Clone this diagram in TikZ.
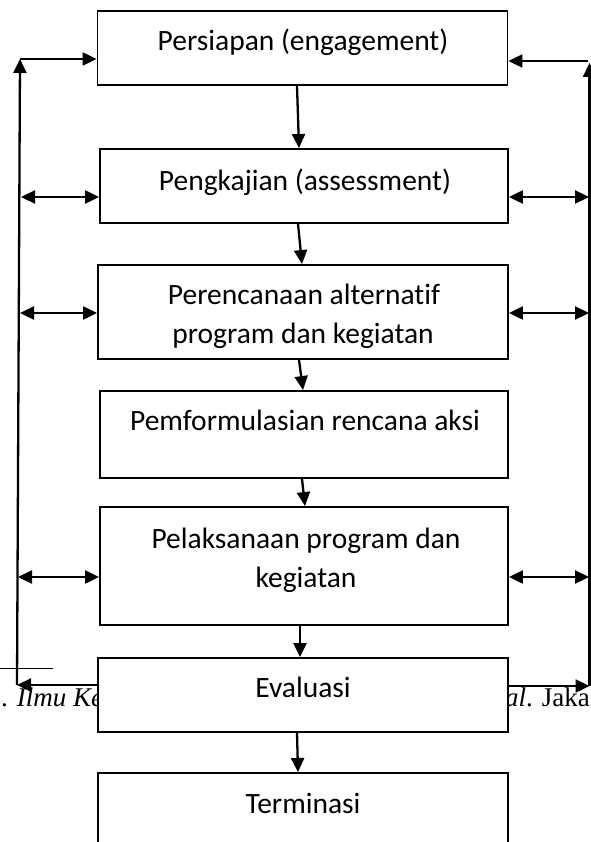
\documentclass[tikz,border=0pt]{standalone}
\usepackage{fontspec}
\setmainfont{Carlito}[Ligatures=NoCommon]
\newfontfamily\fnfont{Liberation Serif}
\usetikzlibrary{arrows.meta}
\tikzset{
  box/.style={draw=black, line width=1.9pt, fill=white, rectangle, inner sep=0pt, minimum width=410pt},
  lbl/.style={anchor=base, inner sep=0pt, font=\fontsize{29.5}{36}\selectfont},
  fn/.style={inner sep=0pt, font=\fnfont\fontsize{27}{32}\selectfont},
  tip/.tip={Triangle[length=14pt,width=13pt]},
  arr/.style={line width=2.3pt, -tip},
  darr/.style={line width=2.3pt, tip-tip},
}
\begin{document}
\begin{tikzpicture}[x=1pt,y=-1pt]
\useasboundingbox (0,0) rectangle (590,842);
% footnote remnants (behind the chart)
\draw[line width=1pt] (0,668) -- (53,668);
\node[fn, anchor=base west] (fnl) at (1,706) {. \textit{Ilmu Ke}};
\node[fn, anchor=base east] (fnr) at (590,706) {\textit{al}. Jaka};
% boxes
\node[box, minimum height=74pt]  (b1) at (302.5,48) {};
\node[box, minimum height=74pt, minimum width=408pt]  (b2) at (304,186) {};
\node[box, minimum height=94pt]  (b3) at (303,312) {};
\node[box, minimum height=87pt, minimum width=408pt]  (b4) at (304,434.5) {};
\node[box, minimum height=118pt, minimum width=408pt] (b5) at (304,566) {};
\node[box, minimum height=74pt]  (b6) at (303,695) {};
\node[box, minimum height=94pt]  (b7) at (303,820) {};
% labels
\node[lbl] (t1) at (303,51) {Persiapan (engagement)};
\node[lbl] (t2) at (305,191) {Pengkajian (assessment)};
\node[lbl] (t3a) at (304,304) {Perencanaan alternatif};
\begin{scope}
\clip (99,266) rectangle (507,349);
\node[lbl] (t3b) at (303,343) {program dan kegiatan};
\end{scope}
\node[lbl] (t4) at (305,430) {Pemformulasian rencana aksi};
\node[lbl] (t5a) at (306,548) {Pelaksanaan program dan};
\node[lbl] (t5b) at (306,587) {kegiatan};
\node[lbl] (t6) at (303,697) {Evaluasi};
\node[lbl] (t7) at (303,813) {Terminasi};
% downward flow
\draw[arr] (297,0 |- b1.south) -- (299,0 |- b2.north);
\draw[arr] (298,0 |- b2.south) -- (302,0 |- b3.north);
\draw[arr] (299,0 |- b3.south) -- (303,0 |- b4.north);
\draw[arr] (302,0 |- b4.south) -- (305,0 |- b5.north);
\draw[arr] (300,0 |- b5.south) -- (300,0 |- b6.north);
\draw[arr] (297,0 |- b6.south) -- (298,0 |- b7.north);
% feedback loops
\coordinate (LT) at (20,59);
\coordinate (LB) at (17,685);
\coordinate (RT) at (589.5,63);
\coordinate (RB) at (589.5,686);
\coordinate (RTh) at (588,61);
\draw[arr] (LB -| b6.west) -- (LB);
\draw[arr] (LB) -- (LT);
\draw[arr] (LT) -- (LT -| b1.west);
\draw[arr] (RB -| b6.east) -- (RB);
\draw[arr] (RB) -- (RT);
\draw[arr] (RTh) -- (RTh -| b1.east);
% side double arrows
\coordinate (L2) at (21,197);
\coordinate (L3) at (20,313);
\coordinate (L5) at (18,577);
\coordinate (R2) at (589,197);
\coordinate (R3) at (589,313);
\coordinate (R5) at (589,577);
\draw[darr] (L2) -- (L2 -| b2.west);
\draw[darr] (L3) -- (L3 -| b3.west);
\draw[darr] (L5) -- (L5 -| b5.west);
\draw[darr] (R2 -| b2.east) -- (R2);
\draw[darr] (R3 -| b3.east) -- (R3);
\draw[darr] (R5 -| b5.east) -- (R5);
\end{tikzpicture}
\end{document}
